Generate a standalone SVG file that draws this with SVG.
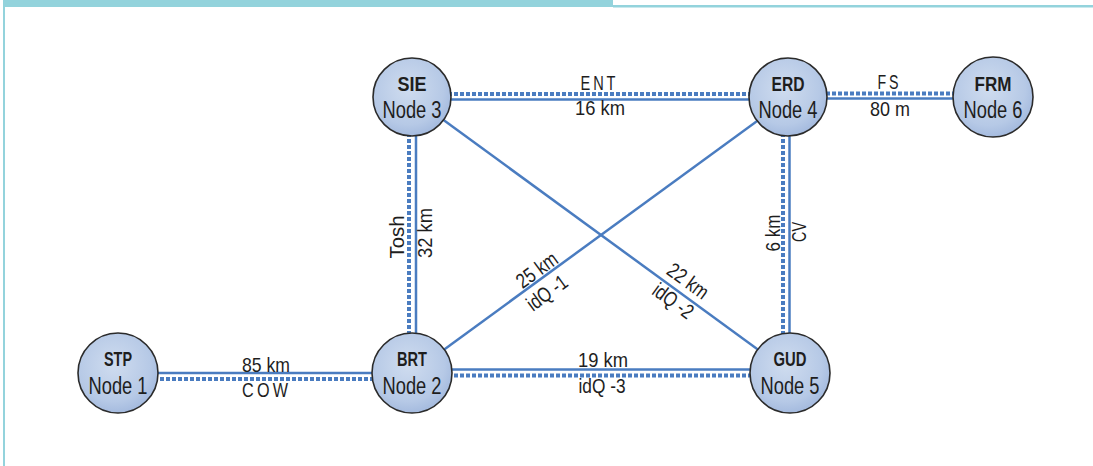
<svg xmlns="http://www.w3.org/2000/svg" width="1093" height="466" viewBox="0 0 1093 466">
  <defs>
    <radialGradient id="nodeFill" cx="0.45" cy="0.4" r="0.65">
      <stop offset="0" stop-color="#cfdcef"/>
      <stop offset="0.7" stop-color="#b6c9e6"/>
      <stop offset="1" stop-color="#9fb6dc"/>
    </radialGradient>
  </defs>
  <style>
    .frame { fill: #93d3dc; }
    .solid { stroke: #4a7cc0; stroke-width: 2.5; fill: none; }
    .dots { stroke: #4a7cc0; stroke-width: 4; stroke-dasharray: 4 2; fill: none; }
    .node circle { fill: url(#nodeFill); stroke: #2b2b2b; stroke-width: 1.6; }
    text { font-family: "Liberation Sans", Arial, sans-serif; fill: #1e1e1e; text-anchor: middle; }
    .name { font-size: 20px; font-weight: bold; }
    .num { font-size: 23px; }
    .lbl { font-size: 21px; }
  </style>

  <!-- page frame -->
  <rect class="frame" x="4" y="0" width="609" height="7"/>
  <rect class="frame" x="613" y="5" width="480" height="2.5"/>
  <rect class="frame" x="3" y="0" width="2" height="466"/>

  <g id="connectors">
    <!-- SIE - ERD -->
    <line class="dots" x1="412" y1="94" x2="790" y2="94"/>
    <line class="solid" x1="412" y1="99.5" x2="790" y2="99.5"/>
    <!-- ERD - FRM -->
    <line class="dots" x1="790" y1="93.5" x2="993" y2="93.5"/>
    <line class="solid" x1="790" y1="98.5" x2="993" y2="98.5"/>
    <!-- SIE - BRT -->
    <line class="dots" x1="409" y1="97" x2="409" y2="373"/>
    <line class="solid" x1="416" y1="97" x2="416" y2="373"/>
    <!-- ERD - GUD -->
    <line class="dots" x1="783" y1="97" x2="783" y2="373"/>
    <line class="solid" x1="789.5" y1="97" x2="789.5" y2="373"/>
    <!-- diagonals -->
    <line class="solid" x1="412" y1="97" x2="790" y2="373"/>
    <line class="solid" x1="790" y1="97" x2="412" y2="373"/>
    <!-- STP - BRT -->
    <line class="solid" x1="118" y1="373" x2="412" y2="373"/>
    <line class="dots" x1="118" y1="379" x2="412" y2="379"/>
    <!-- BRT - GUD -->
    <line class="solid" x1="412" y1="369.5" x2="790" y2="369.5"/>
    <line class="dots" x1="412" y1="375.5" x2="790" y2="375.5"/>
  </g>

  <g id="edge-labels">
    <text class="lbl" x="598" y="90" textLength="35" lengthAdjust="spacingAndGlyphs">E&#8201;N&#8201;T</text>
    <text class="lbl" x="600" y="115" textLength="50" lengthAdjust="spacingAndGlyphs">16 km</text>
    <text class="lbl" x="888" y="89" textLength="21" lengthAdjust="spacingAndGlyphs">F&#8201;S</text>
    <text class="lbl" x="890" y="116" textLength="40" lengthAdjust="spacingAndGlyphs">80 m</text>
    <text class="lbl" transform="translate(404,237) rotate(-90)" textLength="43" lengthAdjust="spacingAndGlyphs">Tosh</text>
    <text class="lbl" transform="translate(432,233) rotate(-90)" textLength="50" lengthAdjust="spacingAndGlyphs">32 km</text>
    <text class="lbl" transform="translate(780,233) rotate(-90)" textLength="37" lengthAdjust="spacingAndGlyphs">6 km</text>
    <text class="lbl" transform="translate(806,232) rotate(-90)" textLength="20" lengthAdjust="spacingAndGlyphs">CV</text>
    <text class="lbl" transform="translate(537,270) rotate(-36) translate(0,7)" textLength="46" lengthAdjust="spacingAndGlyphs">25 km</text>
    <text class="lbl" transform="translate(547,293) rotate(-36) translate(0,7)" textLength="45" lengthAdjust="spacingAndGlyphs">idQ -1</text>
    <text class="lbl" transform="translate(688,281) rotate(36) translate(0,7)" textLength="46" lengthAdjust="spacingAndGlyphs">22 km</text>
    <text class="lbl" transform="translate(673,301) rotate(36) translate(0,7)" textLength="45" lengthAdjust="spacingAndGlyphs">idQ -2</text>
    <text class="lbl" x="266" y="372" textLength="48" lengthAdjust="spacingAndGlyphs">85 km</text>
    <text class="lbl" x="265" y="397" textLength="46" lengthAdjust="spacingAndGlyphs">C&#8201;O&#8201;W</text>
    <text class="lbl" x="603" y="367" textLength="50" lengthAdjust="spacingAndGlyphs">19 km</text>
    <text class="lbl" x="602" y="393" textLength="47" lengthAdjust="spacingAndGlyphs">idQ -3</text>
  </g>

  <g id="node1" class="node">
    <circle cx="118" cy="373" r="40"/>
    <text class="name" x="118" y="366" textLength="28" lengthAdjust="spacingAndGlyphs">STP</text>
    <text class="num" x="118" y="394" textLength="59" lengthAdjust="spacingAndGlyphs">Node 1</text>
  </g>
  <g id="node2" class="node">
    <circle cx="412" cy="373" r="40"/>
    <text class="name" x="412" y="366" textLength="30" lengthAdjust="spacingAndGlyphs">BRT</text>
    <text class="num" x="412" y="394" textLength="59" lengthAdjust="spacingAndGlyphs">Node 2</text>
  </g>
  <g id="node3" class="node">
    <circle cx="412" cy="97" r="39"/>
    <text class="name" x="412" y="91" textLength="29" lengthAdjust="spacingAndGlyphs">SIE</text>
    <text class="num" x="412" y="118" textLength="59" lengthAdjust="spacingAndGlyphs">Node 3</text>
  </g>
  <g id="node4" class="node">
    <circle cx="788" cy="97" r="39"/>
    <text class="name" x="788" y="91" textLength="33" lengthAdjust="spacingAndGlyphs">ERD</text>
    <text class="num" x="788" y="118" textLength="59" lengthAdjust="spacingAndGlyphs">Node 4</text>
  </g>
  <g id="node5" class="node">
    <circle cx="790" cy="373" r="40"/>
    <text class="name" x="790" y="366" textLength="33" lengthAdjust="spacingAndGlyphs">GUD</text>
    <text class="num" x="790" y="394" textLength="59" lengthAdjust="spacingAndGlyphs">Node 5</text>
  </g>
  <g id="node6" class="node">
    <circle cx="993" cy="97" r="40"/>
    <text class="name" x="993" y="91" textLength="37" lengthAdjust="spacingAndGlyphs">FRM</text>
    <text class="num" x="993" y="118" textLength="59" lengthAdjust="spacingAndGlyphs">Node 6</text>
  </g>
</svg>
